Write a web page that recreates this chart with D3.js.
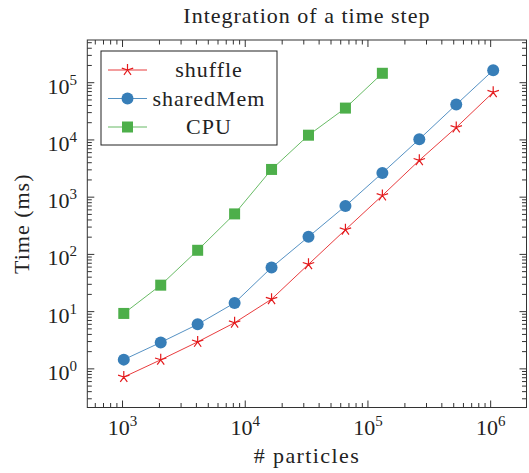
<!DOCTYPE html>
<html lang="en">
<head>
<meta charset="utf-8">
<title>Integration of a time step</title>
<script src="https://cdn.jsdelivr.net/npm/d3@7"></script>
<style>
  body { margin: 0; background: #fff; }
  text { font-family: "Liberation Serif", "DejaVu Serif", serif; fill: #222; }
</style>
</head>
<body>
<script>
// data
var particles = [1024, 2048, 4096, 8192, 16384, 32768, 65536, 131072, 262144, 524288, 1048576];
var shuffle   = [0.72, 1.44, 2.96, 6.4, 16.5, 67, 270, 1070, 4400, 16500, 68000];
var sharedMem = [1.45, 2.9, 6.0, 14.2, 59, 203, 700, 2650, 10300, 41500, 165000];
var cpu       = [9.3, 29, 118, 510, 3050, 12100, 36000, 146000];
var xTicks = [1e3, 1e4, 1e5, 1e6];
var yTicks = [1e0, 1e1, 1e2, 1e3, 1e4, 1e5];

var series = [
  {name: "shuffle",   values: shuffle,   color: "#e41a1c", mark: "star"},
  {name: "sharedMem", values: sharedMem, color: "#377eb8", mark: "circle"},
  {name: "CPU",       values: cpu,       color: "#4daf4a", mark: "square"}
];

var W = 529, H = 473;
// plot box (can't call it "top", window.top is taken)
var pL = 87.3, pR = 526.5, pT = 40, pB = 407.5;

var svg = d3.select("body").append("svg")
  .attr("width", W).attr("height", H);

var x = d3.scaleLog().domain([Math.pow(10, 2.713), Math.pow(10, 6.292)]).range([pL, pR]);
var y = d3.scaleLog().domain([Math.pow(10, -0.675), Math.pow(10, 5.746)]).range([pB, pT]);

// minor tick values (2..9 for each decade)
function minors(scale) {
  var d = scale.domain(), out = [];
  for (var e = Math.floor(Math.log10(d[0])); e <= Math.ceil(Math.log10(d[1])); e++) {
    for (var k = 2; k <= 9; k++) {
      var v = k * Math.pow(10, e);
      if (v >= d[0] && v <= d[1]) out.push(v);
    }
  }
  return out;
}

var axisG = svg.append("g").attr("stroke", "#333").attr("stroke-width", 1);

function ticksH(yy, dir) {
  xTicks.forEach(function(v) {
    axisG.append("line").attr("x1", x(v)).attr("x2", x(v)).attr("y1", yy).attr("y2", yy + dir * 7);
  });
  minors(x).forEach(function(v) {
    axisG.append("line").attr("x1", x(v)).attr("x2", x(v)).attr("y1", yy).attr("y2", yy + dir * 4.5);
  });
}
function ticksV(xx, dir) {
  yTicks.forEach(function(v) {
    axisG.append("line").attr("y1", y(v)).attr("y2", y(v)).attr("x1", xx).attr("x2", xx + dir * 7);
  });
  minors(y).forEach(function(v) {
    axisG.append("line").attr("y1", y(v)).attr("y2", y(v)).attr("x1", xx).attr("x2", xx + dir * 4.5);
  });
}
ticksH(pB, -1);
ticksH(pT, 1);
ticksV(pL, 1);
ticksV(pR, -1);

axisG.append("rect")
  .attr("x", pL).attr("y", pT)
  .attr("width", pR - pL).attr("height", pB - pT)
  .attr("fill", "none");

// tick labels
function powLabel(g, exp) {
  g.append("tspan").text("10").attr("font-size", 22);
  g.append("tspan").text(exp).attr("font-size", 15).attr("dy", -9);
}
xTicks.forEach(function(v) {
  var t = svg.append("text").attr("x", x(v)).attr("y", 435).attr("text-anchor", "middle");
  powLabel(t, Math.round(Math.log10(v)));
});
yTicks.forEach(function(v) {
  var t = svg.append("text").attr("x", 77).attr("y", y(v) + 11).attr("text-anchor", "end");
  powLabel(t, Math.round(Math.log10(v)));
});

// titles
svg.append("text").attr("x", (pL + pR) / 2).attr("y", 23)
  .attr("text-anchor", "middle").attr("font-size", 22).attr("letter-spacing", 1)
  .text("Integration of a time step");
svg.append("text").attr("x", (pL + pR) / 2).attr("y", 463)
  .attr("text-anchor", "middle").attr("font-size", 22).attr("letter-spacing", 1.4)
  .text("# particles");
svg.append("text")
  .attr("transform", "translate(29," + ((pT + pB) / 2) + ") rotate(-90)")
  .attr("text-anchor", "middle").attr("font-size", 22).attr("letter-spacing", 1)
  .text("Time (ms)");

// marks
function drawMark(g, type, color) {
  if (type === "square") {
    g.append("rect").attr("x", -5.5).attr("y", -5.5).attr("width", 11).attr("height", 11)
      .attr("fill", color);
  } else if (type === "circle") {
    g.append("circle").attr("r", 6).attr("fill", color);
  } else {
    var p = "";
    for (var i = 0; i < 5; i++) {
      var a = -Math.PI / 2 + i * 2 * Math.PI / 5;
      p += "M0,0L" + (6 * Math.cos(a)).toFixed(2) + "," + (6 * Math.sin(a)).toFixed(2);
    }
    g.append("path").attr("d", p).attr("stroke", color).attr("stroke-width", 1.2).attr("fill", "none");
  }
}

var line = d3.line()
  .x(function(d) { return x(d[0]); })
  .y(function(d) { return y(d[1]); });

var plot = svg.append("g");
series.slice().reverse().forEach(function(s) {
  var pts = s.values.map(function(v, i) { return [particles[i], v]; });
  plot.append("path").datum(pts).attr("d", line)
    .attr("fill", "none").attr("stroke", s.color).attr("stroke-width", 1).attr("opacity", 0.85);
  pts.forEach(function(d) {
    var g = plot.append("g").attr("transform", "translate(" + x(d[0]) + "," + y(d[1]) + ")");
    drawMark(g, s.mark, s.color);
  });
});

// legend
var lg = svg.append("g");
lg.append("rect").attr("x", 101).attr("y", 51).attr("width", 176).attr("height", 94)
  .attr("fill", "#fff").attr("stroke", "#222").attr("stroke-width", 1);
series.forEach(function(s, i) {
  var yy = 70 + i * 28.5;
  lg.append("line").attr("x1", 108).attr("x2", 147).attr("y1", yy).attr("y2", yy)
    .attr("stroke", s.color).attr("stroke-width", 1).attr("opacity", 0.85);
  var g = lg.append("g").attr("transform", "translate(127.5," + yy + ")");
  drawMark(g, s.mark, s.color);
  lg.append("text").attr("x", 209).attr("y", yy + 7).attr("text-anchor", "middle")
    .attr("font-size", 22).attr("letter-spacing", 1)
    .text(s.name);
});
</script>
</body>
</html>
